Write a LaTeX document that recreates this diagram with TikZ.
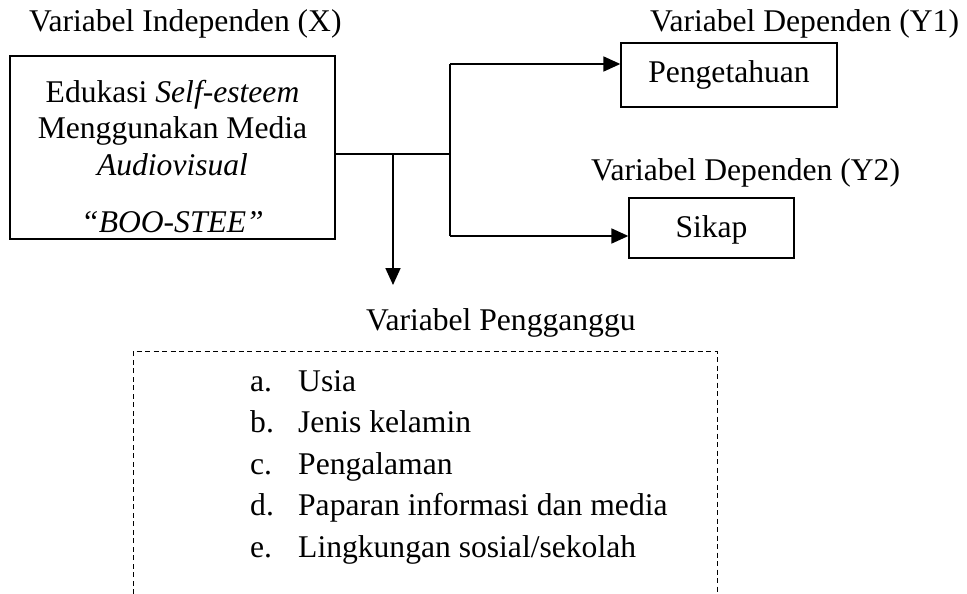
\documentclass[tikz,border=0pt]{standalone}
\usepackage{fontspec}
\setmainfont{Liberation Serif}
\usetikzlibrary{arrows.meta}
\usetikzlibrary{calc}

\begin{document}
\begin{tikzpicture}[
    x=1pt, y=-1pt,
    font=\fontsize{31.6}{36.5}\selectfont,
    varbox/.style={
        draw,
        line width=1.3pt,
        align=center,
        inner sep=0pt,
    },
    heading/.style={
        anchor=base west,
        inner sep=0pt,
    },
    item/.style={
        anchor=base west,
        inner sep=0pt,
    },
    link/.style={draw, line width=1.8pt},
    arrowlink/.style={draw, line width=1.8pt, -{Triangle[length=17pt,width=15pt]}},
    openbox/.style={draw, line width=1pt, dash pattern=on 5pt off 3.5pt}
]
\useasboundingbox (0,0) rectangle (967,594);

% headings
\node[heading] (labx) at (29,32) {Variabel Independen (X)};
\node[heading] (laby1) at (650,32) {Variabel Dependen (Y1)};
\node[heading] (laby2) at (591,180) {Variabel Dependen (Y2)};
\node[heading] (labz) at (366,330) {Variabel Pengganggu};

% boxes
\node[varbox, minimum width=325pt, minimum height=183pt] (xbox) at (172.5,147.5)
    {\rule{0pt}{40pt}Edukasi \textit{Self-esteem}\\Menggunakan Media\\\textit{Audiovisual}\\[21pt]\textit{``BOO-STEE''}};
\node[varbox, minimum width=216pt, minimum height=64pt] (pengetahuan) at (729,75) {Pengetahuan};
\node[varbox, minimum width=165pt, minimum height=60pt] (sikap) at (711.5,228) {\rule{0pt}{26pt}Sikap};

% connectors
\coordinate (trunk) at (450,154);
\coordinate (split) at (393,154);
\coordinate (splittop) at (450,64);
\coordinate (splitbot) at (450,236);
\coordinate (zarrow) at (393,285);

\draw[link] (xbox.east |- trunk) -- (trunk);
\draw[link] (splittop) -- (splitbot);
\draw[arrowlink] (splittop) -- (splittop -| pengetahuan.west);
\draw[arrowlink] (splitbot) -- (splitbot -| sikap.west);
\draw[arrowlink] (split) -- (zarrow);

% confounders
\coordinate (zbl) at (133,594);
\coordinate (ztl) at (133,351);
\coordinate (ztr) at (717,351);
\coordinate (zbr) at (717,594);
\draw[openbox] (zbl) -- (ztl) -- (ztr) -- (zbr);

\node[item] (usia) at (250,391) {\makebox[48pt][l]{a.}Usia};
\node[item] (jenis) at (250,432.5) {\makebox[48pt][l]{b.}Jenis kelamin};
\node[item] (pengalaman) at (250,474) {\makebox[48pt][l]{c.}Pengalaman};
\node[item] (paparan) at (250,515.5) {\makebox[48pt][l]{d.}Paparan informasi dan media};
\node[item] (lingkungan) at (250,557) {\makebox[48pt][l]{e.}Lingkungan sosial/sekolah};

\end{tikzpicture}
\end{document}
